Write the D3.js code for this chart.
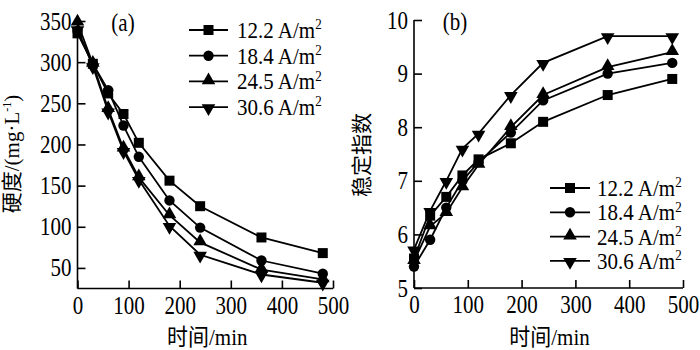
<!DOCTYPE html>
<html>
<head>
<meta charset="utf-8">
<script src="https://cdn.jsdelivr.net/npm/d3@7"></script>
<style>
html,body{margin:0;padding:0;background:#fff;}
</style>
</head>
<body>
<svg id="chart" width="700" height="350"></svg>
<script>
// ---- data ----
const times = [0, 30, 60, 90, 120, 180, 240, 360, 480];
const seriesLabels = ["12.2 A/m", "18.4 A/m", "24.5 A/m", "30.6 A/m"];
const hardness12 = [335, 298, 262, 237, 202, 156, 125, 87, 68];
const hardness18 = [338, 298, 266, 223, 185, 132, 99, 59, 43];
const hardness24 = [348, 298, 243, 195, 160, 114, 81, 48, 36];
const hardness30 = [340, 295, 240, 192, 157, 101, 66, 42, 32];
const stab12 = [5.55, 6.35, 6.7, 7.1, 7.4, 7.7, 8.1, 8.6, 8.9];
const stab18 = [5.4, 5.9, 6.5, 7.0, 7.35, 7.9, 8.5, 9.0, 9.2];
const stab24 = [5.5, 6.15, 6.4, 6.88, 7.3, 8.0, 8.6, 9.12, 9.4];
const stab30 = [5.72, 6.44, 7.0, 7.6, 7.88, 8.6, 9.2, 9.7, 9.7];
const xTicks = [0, 100, 200, 300, 400, 500];
const yTicksA = [50, 100, 150, 200, 250, 300, 350];
const yTicksB = [5, 6, 7, 8, 9, 10];
const xLabel = "时间/min";
const yLabelB = "稳定指数";

const FONT = "'Liberation Serif', 'Times New Roman', Times, 'Noto Sans CJK SC', serif";
const svg = d3.select("#chart").style("font-family", FONT);
const FS = 21;
const SY = 1.2;
const SYLEG = 1.1;
const symbols = [d3.symbolSquare, d3.symbolCircle, d3.symbolTriangle, d3.symbolTriangle];
const symSizes = [100, 85, 80, 80];
const symRot = [0, 0, 0, 180];

function drawMarker(g, i, x, y) {
  g.append("path")
    .attr("d", d3.symbol().type(symbols[i]).size(symSizes[i])())
    .attr("transform", `translate(${x},${y}) rotate(${symRot[i]})` + (i >= 2 ? " translate(0,-1)" : ""))
    .attr("fill", "#000");
}

function txt(sel, size) {
  return sel.attr("font-family", null).style("font-family", FONT).style("font-size", size + "px").attr("fill", "#000");
}
function place(sel, x, y, sy) {
  return sel.attr("x", 0).attr("y", 0).attr("dy", null)
    .attr("transform", `translate(${x},${y}) scale(1,${sy})`);
}

function panel(opts) {
  const g = svg.append("g");
  const x = d3.scaleLinear().domain([0, 500]).range(opts.xr);
  const y = d3.scaleLinear().domain(opts.yd).range(opts.yr);

  const xa = g.append("g").attr("transform", `translate(0,${opts.yr[0]})`)
    .call(d3.axisBottom(x).tickValues(xTicks).tickFormat(d3.format("d")).tickSizeInner(-8).tickSizeOuter(0));
  xa.attr("font-family", null);
  txt(place(xa.selectAll("text"), 0, 25, SY), FS);
  const ya = g.append("g").attr("transform", `translate(${opts.xr[0]},0)`)
    .call(d3.axisLeft(y).tickValues(opts.yTicks).tickFormat(d3.format("d")).tickSizeInner(-8).tickSizeOuter(0));
  ya.attr("font-family", null);
  txt(place(ya.selectAll("text"), -6, 8, SY), FS);
  g.selectAll(".domain").attr("stroke", "#000").attr("stroke-width", 1.6);
  g.selectAll(".tick line").attr("stroke", "#000").attr("stroke-width", 1.6);
  ya.select(".domain").attr("d", `M0,${opts.yr[0]}V${opts.yr[1]}`);
  xa.select(".domain").attr("d", `M${opts.xr[0]},0H${opts.xr[1]}`);

  const line = d3.line().x((d, i) => x(times[i])).y(d => y(d));
  opts.series.forEach((s, si) => {
    g.append("path").datum(s).attr("d", line)
      .attr("fill", "none").attr("stroke", "#000").attr("stroke-width", 1.8);
    s.forEach((v, i) => drawMarker(g, si, x(times[i]), y(v)));
  });

  seriesLabels.forEach((lab, i) => {
    const ly = opts.leg.y0 + i * opts.leg.dy;
    g.append("line").attr("x1", opts.leg.x0).attr("x2", opts.leg.x1)
      .attr("y1", ly).attr("y2", ly).attr("stroke", "#000").attr("stroke-width", 1.8);
    drawMarker(g, i, (opts.leg.x0 + opts.leg.x1) / 2, ly);
    const t = txt(place(g.append("text"), opts.leg.tx, ly + 8, SYLEG), FS);
    t.append("tspan").text(lab);
    t.append("tspan").text("2").attr("dy", -8).style("font-size", "13px");
  });

  txt(place(g.append("text"), opts.tag.x, opts.tag.y, SY).attr("text-anchor", "middle"), FS).text(opts.tag.t);

  txt(place(g.append("text"), (opts.xr[0] + opts.xr[1]) / 2 + opts.xlOff, 345, 1.1)
    .attr("text-anchor", "middle"), 21).text(xLabel);
  return g;
}

panel({
  xr: [77.5, 333], yd: [25, 350], yr: [288.5, 21], yTicks: yTicksA,
  series: [hardness12, hardness18, hardness24, hardness30],
  leg: {x0: 189, x1: 228, tx: 237, y0: 30, dy: 25.7},
  tag: {x: 123, y: 31, t: "(a)"}, xlOff: 2
});
panel({
  xr: [414, 683], yd: [5, 10], yr: [288, 20], yTicks: yTicksB,
  series: [stab12, stab18, stab24, stab30],
  leg: {x0: 550, x1: 590, tx: 597, y0: 188, dy: 24.3},
  tag: {x: 455, y: 30, t: "(b)"}, xlOff: 1
});

const yla = txt(svg.append("text").attr("transform", "translate(19,154) rotate(-90)")
  .attr("text-anchor", "middle"), 21);
yla.append("tspan").text("硬度/(mg·L");
yla.append("tspan").text("-1").attr("dy", -8).style("font-size", "12px");
yla.append("tspan").text(")").attr("dy", 8);
txt(svg.append("text").attr("transform", "translate(369,155) rotate(-90)")
  .attr("text-anchor", "middle"), 21).text(yLabelB);
</script>
</body>
</html>
